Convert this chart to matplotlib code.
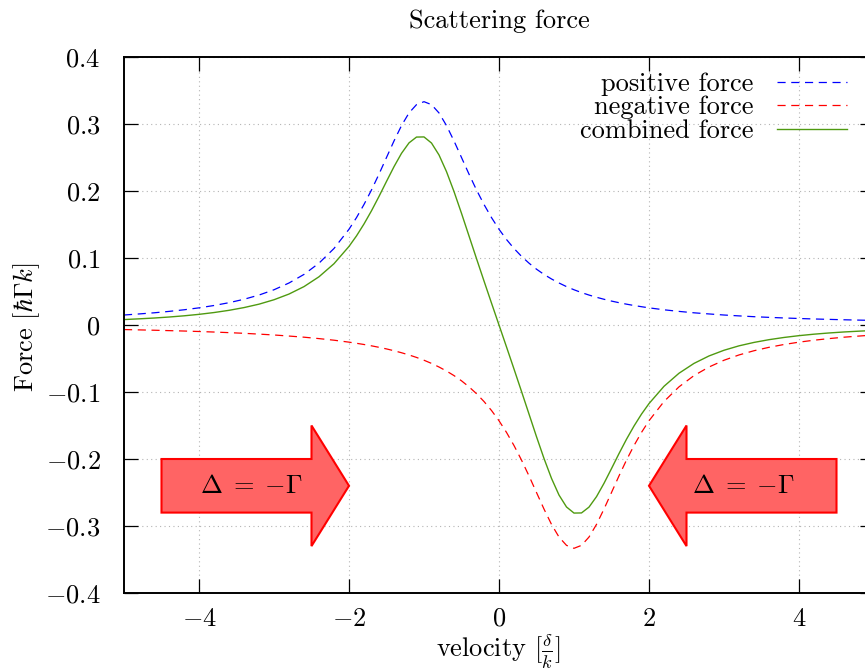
import matplotlib
matplotlib.use("Agg")
import matplotlib.pyplot as plt
from matplotlib.ticker import FuncFormatter

plt.rcParams['font.family'] = ['cmr10', 'DejaVu Serif']
plt.rcParams['mathtext.fontset'] = 'cm'
plt.rcParams['axes.formatter.use_mathtext'] = True

# velocity samples [delta/k], finer around the peaks
velocity = [-5.0, -4.8, -4.6, -4.4, -4.2, -4.0, -3.8, -3.6, -3.4, -3.2,
            -3.0, -2.8, -2.6, -2.4, -2.2,
            -2.0, -1.9, -1.8, -1.7, -1.6, -1.5, -1.4, -1.3, -1.2, -1.1,
            -1.0, -0.9, -0.8, -0.7, -0.6, -0.5, -0.4, -0.3, -0.2, -0.1,
            0.0, 0.1, 0.2, 0.3, 0.4, 0.5, 0.6, 0.7, 0.8, 0.9,
            1.0, 1.1, 1.2, 1.3, 1.4, 1.5, 1.6, 1.7, 1.8, 1.9, 2.0,
            2.2, 2.4, 2.6, 2.8, 3.0, 3.2, 3.4, 3.6, 3.8,
            4.0, 4.2, 4.4, 4.6, 4.8, 5.0]

positive_force = [0.0149, 0.0165, 0.0182, 0.0203, 0.0227, 0.0256, 0.0291, 0.0333, 0.0384, 0.0447,
                  0.0526, 0.0627, 0.0755, 0.0923, 0.1142,
                  0.1429, 0.1603, 0.1799, 0.2016, 0.2252, 0.2500, 0.2747, 0.2976, 0.3165, 0.3289,
                  0.3333, 0.3289, 0.3165, 0.2976, 0.2747, 0.2500, 0.2252, 0.2016, 0.1799, 0.1603,
                  0.1429, 0.1276, 0.1142, 0.1025, 0.0923, 0.0833, 0.0755, 0.0687, 0.0627, 0.0573,
                  0.0526, 0.0484, 0.0447, 0.0414, 0.0384, 0.0357, 0.0333, 0.0311, 0.0291, 0.0273, 0.0256,
                  0.0227, 0.0203, 0.0182, 0.0165, 0.0149, 0.0136, 0.0124, 0.0114, 0.0105,
                  0.0097, 0.0090, 0.0084, 0.0078, 0.0073, 0.0068]

negative_force = [-0.0068, -0.0073, -0.0078, -0.0084, -0.0090, -0.0097, -0.0105, -0.0114, -0.0124, -0.0136,
                  -0.0149, -0.0165, -0.0182, -0.0203, -0.0227,
                  -0.0256, -0.0273, -0.0291, -0.0311, -0.0333, -0.0357, -0.0384, -0.0414, -0.0447, -0.0484,
                  -0.0526, -0.0573, -0.0627, -0.0687, -0.0755, -0.0833, -0.0923, -0.1025, -0.1142, -0.1276,
                  -0.1429, -0.1603, -0.1799, -0.2016, -0.2252, -0.2500, -0.2747, -0.2976, -0.3165, -0.3289,
                  -0.3333, -0.3289, -0.3165, -0.2976, -0.2747, -0.2500, -0.2252, -0.2016, -0.1799, -0.1603, -0.1429,
                  -0.1142, -0.0923, -0.0755, -0.0627, -0.0526, -0.0447, -0.0384, -0.0333, -0.0291,
                  -0.0256, -0.0227, -0.0203, -0.0182, -0.0165, -0.0149]

combined_force = [0.0081, 0.0092, 0.0104, 0.0119, 0.0137, 0.0159, 0.0186, 0.0219, 0.0260, 0.0311,
                  0.0377, 0.0462, 0.0573, 0.0720, 0.0915,
                  0.1173, 0.1330, 0.1508, 0.1705, 0.1919, 0.2143, 0.2363, 0.2562, 0.2718, 0.2805,
                  0.2807, 0.2716, 0.2538, 0.2289, 0.1992, 0.1667, 0.1329, 0.0991, 0.0657, 0.0327,
                  0.0, -0.0327, -0.0657, -0.0991, -0.1329, -0.1667, -0.1992, -0.2289, -0.2538, -0.2716,
                  -0.2807, -0.2805, -0.2718, -0.2562, -0.2363, -0.2143, -0.1919, -0.1705, -0.1508, -0.1330, -0.1173,
                  -0.0915, -0.0720, -0.0573, -0.0462, -0.0377, -0.0311, -0.0260, -0.0219, -0.0186,
                  -0.0159, -0.0137, -0.0119, -0.0104, -0.0092, -0.0081]

x_ticks = [-4, -2, 0, 2, 4]
y_ticks = [-0.4, -0.3, -0.2, -0.1, 0, 0.1, 0.2, 0.3, 0.4]

fig = plt.figure(figsize=(8.65, 6.71), dpi=100)
# axes box runs a little past the right edge, like the original
ax = fig.add_axes([124 / 865, 1 - 593 / 671, 750 / 865, 536 / 671])

ax.plot(velocity, positive_force, color='#0000ff', lw=0.9, dashes=(6.5, 4.5), label='positive force')
ax.plot(velocity, negative_force, color='#ff0000', lw=0.9, dashes=(6.5, 4.5), label='negative force')
ax.plot(velocity, combined_force, color='#4f9a10', lw=1.0, label='combined force')

ax.set_xlim(-5, 5)
ax.set_ylim(-0.4, 0.4)
ax.set_xticks(x_ticks)
ax.set_yticks(y_ticks)
ax.yaxis.set_major_formatter(FuncFormatter(lambda v, p: '$%g$' % round(v, 2)))
ax.xaxis.set_major_formatter(FuncFormatter(lambda v, p: '$%g$' % v))
ax.tick_params(direction='in', length=10, width=0.9, top=True, right=True, labelsize=19)
ax.tick_params(axis='y', pad=17)
ax.tick_params(axis='x', pad=10)
for s in ax.spines.values():
    s.set_linewidth(1.4)
ax.grid(True, color='#b4b4b4', lw=0.8, linestyle=(0, (1, 3)))

# detuning arrows
for x0, dx, tx in [(-4.5, 2.5, -3.3), (4.5, -2.5, 3.25)]:
    ax.arrow(x0, -0.24, dx, 0, width=0.08, head_width=0.18, head_length=0.5,
             length_includes_head=True, facecolor='#ff6464', edgecolor='#ff0000', lw=1.5, zorder=4)
    ax.text(tx, -0.24, r'$\Delta\;=\;{-\Gamma}$', ha='center', va='center', fontsize=19, zorder=5)

ax.set_title('Scattering force', fontsize=19, pad=21)
ax.set_xlabel(r'velocity [$\frac{\delta}{k}$]', fontsize=19)
ax.set_ylabel(r'Force [$\hbar\Gamma k$]', fontsize=19)
ax.xaxis.set_label_coords(0.499, -0.07)
ax.yaxis.set_label_coords(-0.109, 0.496)

ax.legend(loc='upper right', bbox_to_anchor=(0.964, 0.972), frameon=False, markerfirst=False,
          fontsize=19, handlelength=2.65, handletextpad=0.9, labelspacing=0.0, borderaxespad=0,
          borderpad=0)

fig.savefig('out.png', dpi=100)
